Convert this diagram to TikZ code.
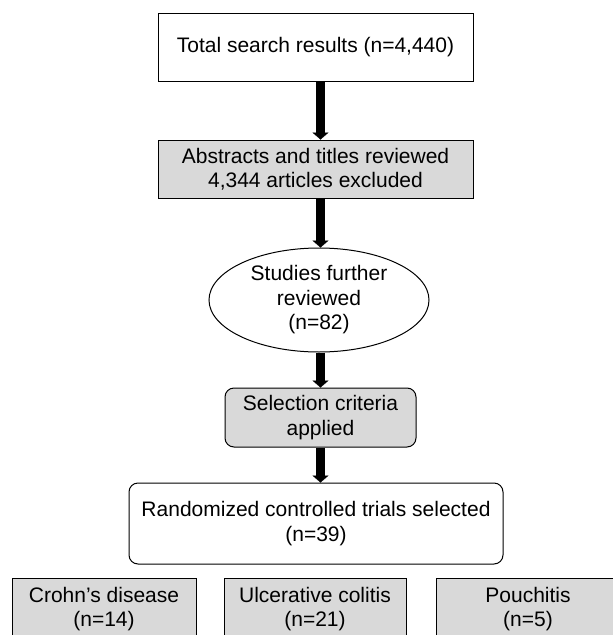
\documentclass[tikz,border=0pt]{standalone}
\usepackage{fontspec}
\setmainfont{Liberation Sans}
\usetikzlibrary{shapes.geometric,arrows.meta}
\definecolor{boxgray}{RGB}{217,217,217}
\tikzset{
  every node/.style={font=\fontsize{21}{24.5}\selectfont, align=center, inner sep=0pt, draw=black, line width=1pt},
  sqbox/.style={rectangle, fill=white},
  graybox/.style={rectangle, fill=boxgray},
  rbox/.style={rectangle, rounded corners=9pt},
  oval/.style={ellipse, fill=white},
  bigarrow/.style={draw=black, line width=9pt, -{Triangle[width=16pt,length=7pt,line width=0.1pt]}},
}
\begin{document}
\begin{tikzpicture}[x=1pt,y=-1pt]
\useasboundingbox (0,0) rectangle (613,635);
\clip (0,0) rectangle (613,635);
\fill[white] (0,0) rectangle (613,635);
\node[sqbox, minimum width=315pt, minimum height=68pt] (b1) at (315.5,47) {Total search results (n=4,440)};
\node[graybox, minimum width=315pt, minimum height=58pt] (b2) at (315.5,169) {Abstracts and titles reviewed\\4,344 articles excluded};
\node[oval, minimum width=220pt, minimum height=104pt] (e) at (319,300) {Studies further\\reviewed\\(n=82)};
\node[rbox, fill=boxgray, minimum width=191pt, minimum height=59pt] (sel) at (320.5,417.5) {Selection criteria\\applied};
\node[rbox, fill=white, minimum width=374pt, minimum height=81pt] (rct) at (316,523.5) {Randomized controlled trials selected\\(n=39)};
\node[graybox, minimum width=184pt, minimum height=62pt] (cd) at (104,609) {Crohn’s disease\\(n=14)};
\node[graybox, minimum width=182pt, minimum height=62pt] (uc) at (315,609) {Ulcerative colitis\\(n=21)};
\node[graybox, minimum width=184pt, minimum height=62pt] (pc) at (528,609) {Pouchitis\\(n=5)};
\draw[bigarrow] (b1.south -| sel.center) -- (b2.north -| sel.center);
\draw[bigarrow] (b2.south -| sel.center) -- (e.north -| sel.center);
\draw[bigarrow] (e.south -| sel.center) -- (sel.north);
\draw[bigarrow] (sel.south) -- (rct.north -| sel.center);
\end{tikzpicture}
\end{document}
